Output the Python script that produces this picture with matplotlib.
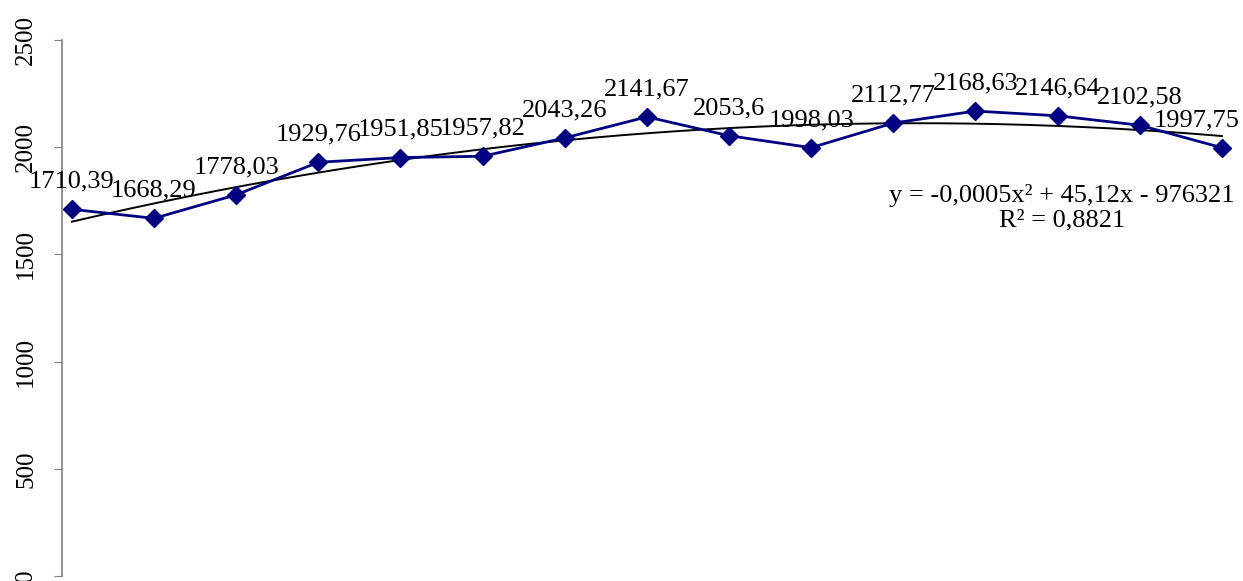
import matplotlib
matplotlib.use("Agg")
import matplotlib.pyplot as plt
import numpy as np

# ---- data ----
years = list(range(1995, 2010))
values = [1710.39, 1668.29, 1778.03, 1929.76, 1951.85, 1957.82, 2043.26, 2141.67,
          2053.6, 1998.03, 2112.77, 2168.63, 2146.64, 2102.58, 1997.75]
yticks = [0, 500, 1000, 1500, 2000, 2500]
eq_text = "y = -0,0005x\u00b2 + 45,12x - 976321\nR\u00b2 = 0,8821"

plt.rcParams["font.family"] = ["Liberation Serif", "DejaVu Serif"]
FS = 19

fig = plt.figure(figsize=(12.43, 5.81), dpi=100)
ax = fig.add_axes([0.0499, 0.0086, 0.941, 0.9225])

x = np.array(years, dtype=float)
y = np.array(values)

# polynomial (order 2) trendline
coef = np.polyfit(x - x[0], y, 2)
xt = np.linspace(x[0], x[-1], 200)
ax.plot(xt, np.polyval(coef, xt - x[0]), color="black", lw=1.4, zorder=2)

ax.plot(x, y, color="#000080", lw=2, marker="D", markersize=9,
        markerfacecolor="#000080", markeredgecolor="#000080", zorder=3)

n = len(x)
for i, (xi, yi) in enumerate(zip(x, y)):
    dx = -18 if i == n - 1 else 0
    ax.annotate(str(yi).replace(".", ","), (xi, yi), xytext=(dx, 12),
                textcoords="offset points", ha="center", va="bottom",
                fontsize=FS, zorder=4)

ax.text(0.855, 0.732, eq_text, transform=ax.transAxes, ha="center", va="top",
        fontsize=FS, linespacing=1.15, multialignment="center")

ax.set_xlim(x[0] - 0.12, x[-1] + 0.12)
ax.set_ylim(0, 2500)
ax.set_yticks(yticks)
ax.set_yticklabels([str(t) for t in yticks], rotation=90, va="center",
                   fontsize=18)
ax.tick_params(axis="y", direction="out", length=6, color="#808080", pad=12)
ax.set_xticks([])
for s in ["top", "right", "bottom"]:
    ax.spines[s].set_visible(False)
ax.spines["left"].set_color("#808080")
ax.spines["left"].set_linewidth(1.2)

fig.savefig("out.png", dpi=100)
